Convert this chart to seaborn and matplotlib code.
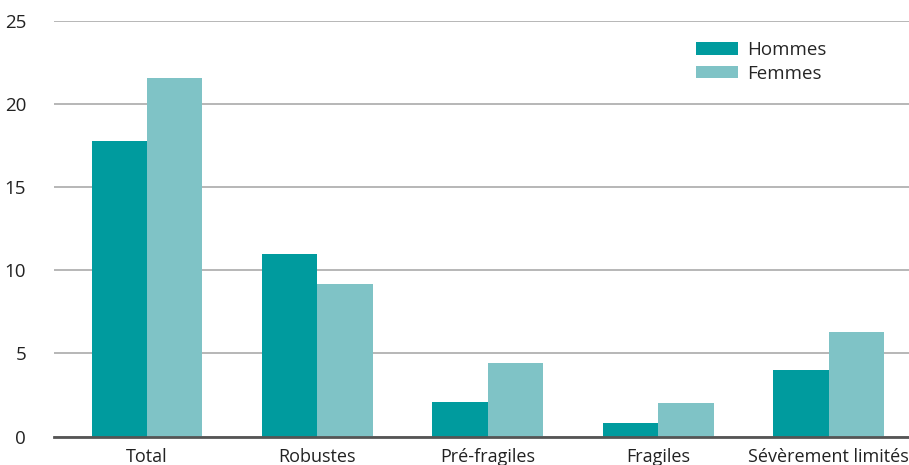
import pandas as pd
import matplotlib
matplotlib.use("Agg")
import matplotlib.pyplot as plt
import seaborn as sns

categories = ["Total", "Robustes", "Pré-fragiles", "Fragiles", "Sévèrement limités"]
hommes = [17.8, 11.0, 2.1, 0.8, 4.0]
femmes = [21.6, 9.2, 4.4, 2.0, 6.3]
series = ["Hommes", "Femmes"]
yticks = [0, 5, 10, 15, 20, 25]

df = pd.DataFrame({
    "categorie": categories * 2,
    "valeur": hommes + femmes,
    "sexe": [series[0]] * len(categories) + [series[1]] * len(categories),
})

sns.set_style("white")
plt.rcParams["font.family"] = ["Open Sans", "DejaVu Sans"]

fig = plt.figure(figsize=(9.09, 4.65), dpi=100)
ax = fig.add_axes([54 / 909, 28.5 / 465, 855 / 909, 415.5 / 465])

palette = {"Hommes": "#009b9e", "Femmes": "#7fc3c6"}
sns.barplot(data=df, x="categorie", y="valeur", hue="sexe", palette=palette,
            width=0.65, gap=0, saturation=1, linewidth=0, ax=ax, zorder=3)

ax.set_ylim(0, 25)
ax.set_xlim(-0.545, 4.47)
ax.set_yticks(yticks)
ax.set_yticklabels([str(t) for t in yticks])
ax.yaxis.grid(True, color="#aaaaaa", linewidth=1.2, zorder=0)
ax.set_axisbelow(True)
for s in ["top", "right", "left"]:
    ax.spines[s].set_visible(False)
ax.spines["bottom"].set_color("#555555")
ax.spines["bottom"].set_linewidth(2)
ax.spines["bottom"].set_zorder(4)
ax.tick_params(axis="y", length=0, pad=20, labelsize=13.5, labelcolor="#222222")
ax.tick_params(axis="x", length=0, pad=8, labelsize=13, labelcolor="#222222")
ax.set_xlabel("")
ax.set_ylabel("")

ax.legend(title=None, frameon=False, loc="upper left",
          bbox_to_anchor=(634 / 855, 0.97), fontsize=13.5,
          handlelength=2.25, handleheight=0.65, handletextpad=0.5,
          labelspacing=0.3, borderaxespad=0)

fig.savefig("out.png", dpi=100)
